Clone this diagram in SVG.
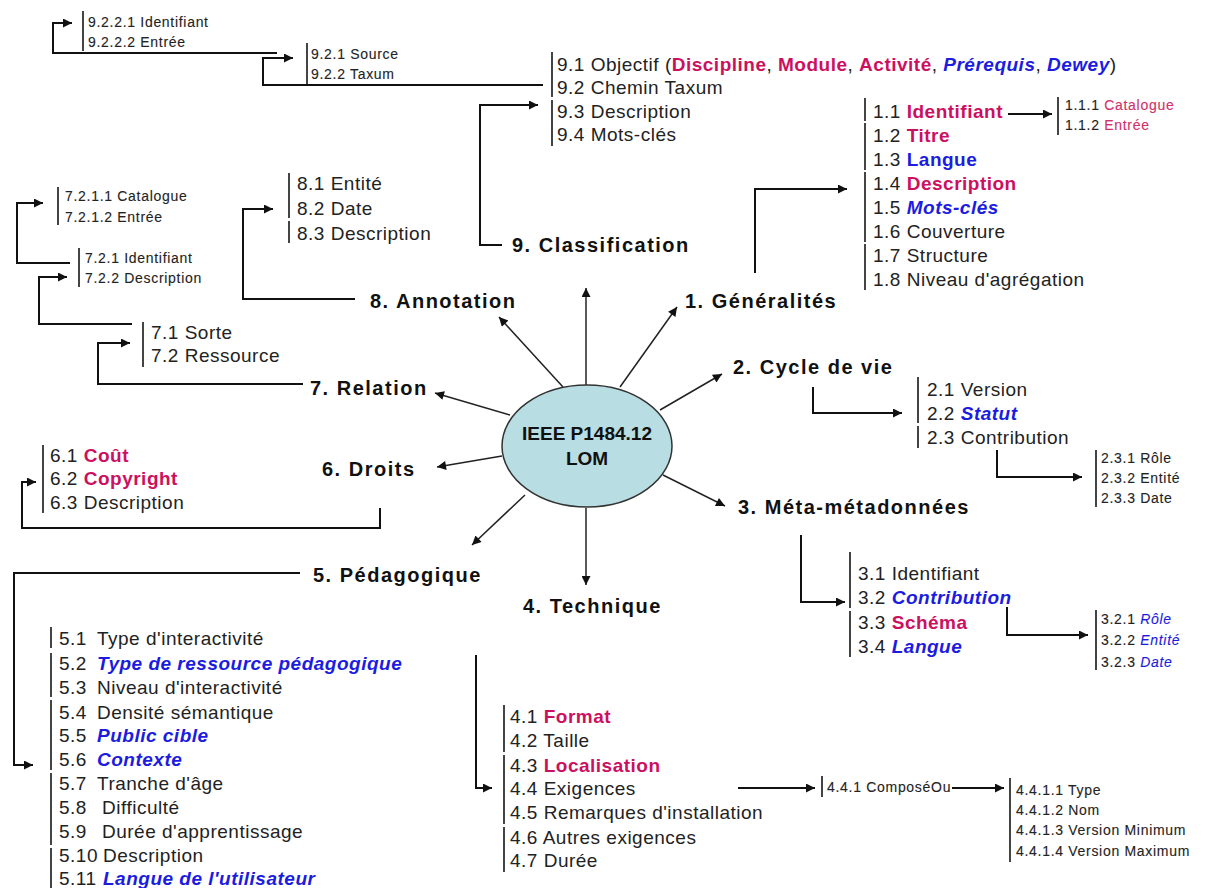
<svg xmlns="http://www.w3.org/2000/svg" width="1210" height="888" viewBox="0 0 1210 888">
<defs>
<marker id="a" viewBox="0 0 10 10" refX="10" refY="5" markerWidth="12" markerHeight="9" markerUnits="userSpaceOnUse" orient="auto"><path d="M0,0 L10,5 L0,10 z" fill="#111"/></marker>
<style>
text{font-family:"Liberation Sans",Arial,sans-serif;fill:#222}
.t{font-size:19px;letter-spacing:0.5px}
.s{font-size:14px;letter-spacing:0.7px;stroke:#333;stroke-width:0.12}
.h{font-size:20px;font-weight:bold;letter-spacing:1.5px;fill:#111}
.e{font-size:19px;font-weight:bold;fill:#111;text-anchor:middle}
.m{fill:#cc1060;font-weight:bold}
.p{fill:#d0306a;stroke:#d0306a}
.b{fill:#1c1ce0;font-weight:bold;font-style:italic}
.bs{fill:#1c1ce0;stroke:#1c1ce0;font-style:italic}
.bn{fill:#1c1ce0;font-weight:bold}
.bar{stroke:#444;stroke-width:2;fill:none}
.c{fill:none;stroke:#111;stroke-width:2;marker-end:url(#a)}
.r{fill:none;stroke:#222;stroke-width:1.5;marker-end:url(#a)}
</style>
</defs>
<rect width="1210" height="888" fill="#fff"/>

<g id="connectors">
<polyline class="c" points="277,53 53,53 53,23 72,23"/>
<polyline class="c" points="543,85 263,85 263,58 293,58"/>
<polyline class="c" points="502,245 480,245 480,105 538,105"/>
<polyline class="c" points="755,273 755,189 847,189"/>
<polyline class="c" points="1008,114 1052,114"/>
<polyline class="c" points="355,299 243,299 243,209 273,209"/>
<polyline class="c" points="303,384 98,384 98,343 130,343"/>
<polyline class="c" points="132,324 39,324 39,277 67,277"/>
<polyline class="c" points="70,263 17,263 17,203 43,203"/>
<polyline class="c" points="813,387 813,413 902,413"/>
<polyline class="c" points="997,450 997,477 1082,477"/>
<polyline class="c" points="380,508 380,528 22,528 22,482 36,482"/>
<polyline class="c" points="801,535 801,602 845,602"/>
<polyline class="c" points="1007,607 1007,635 1088,635"/>
<polyline class="c" points="300,573 14,573 14,765 33,765"/>
<polyline class="c" points="476,655 476,788 492,788"/>
<polyline class="c" points="738,788 815,788"/>
<polyline class="c" points="952,788 1004,788"/>
<line class="r" x1="586" y1="385" x2="586" y2="288"/>
<line class="r" x1="620" y1="387" x2="677" y2="307"/>
<line class="r" x1="660" y1="410" x2="722" y2="374"/>
<line class="r" x1="563" y1="387" x2="499" y2="317"/>
<line class="r" x1="510" y1="415" x2="435" y2="393"/>
<line class="r" x1="502" y1="456" x2="437" y2="467"/>
<line class="r" x1="663" y1="475" x2="725" y2="506"/>
<line class="r" x1="525" y1="495" x2="472" y2="545"/>
<line class="r" x1="586" y1="508" x2="586" y2="585"/>
</g>

<g id="lom">
<ellipse cx="587" cy="446" rx="85" ry="61" fill="#b8dde3" stroke="#333" stroke-width="1.5"/>
<text class="e" x="587" y="440">IEEE P1484.12</text>
<text class="e" x="587" y="465">LOM</text>
</g>

<g id="n9">
<text class="h" x="512" y="252">9. Classification</text>
<path class="bar" d="M552,52V97M552,100V146"/>
<text class="t" x="557" y="71">9.1 Objectif (<tspan class="m">Discipline</tspan>, <tspan class="m">Module</tspan>, <tspan class="m">Activité</tspan>, <tspan class="b">Prérequis</tspan>, <tspan class="b">Dewey</tspan>)</text>
<text class="t" x="557" y="94">9.2 Chemin Taxum</text>
<text class="t" x="557" y="118">9.3 Description</text>
<text class="t" x="557" y="141">9.4 Mots-clés</text>
</g>
<g id="n92">
<path class="bar" d="M307,43V84"/>
<text class="s" x="311" y="59">9.2.1 Source</text>
<text class="s" x="311" y="79">9.2.2 Taxum</text>
</g>
<g id="n922">
<path class="bar" d="M83,11V51"/>
<text class="s" x="88" y="27">9.2.2.1  Identifiant</text>
<text class="s" x="88" y="47">9.2.2.2 Entrée</text>
</g>

<g id="n1">
<text class="h" x="685" y="308">1. Généralités</text>
<path class="bar" d="M865,98V121M865,123V170M865,172V242M865,244V290"/>
<text class="t" x="873" y="118">1.1 <tspan class="m">Identifiant</tspan></text>
<text class="t" x="873" y="142">1.2 <tspan class="m">Titre</tspan></text>
<text class="t" x="873" y="166">1.3 <tspan class="bn">Langue</tspan></text>
<text class="t" x="873" y="190">1.4 <tspan class="m">Description</tspan></text>
<text class="t" x="873" y="214">1.5 <tspan class="b">Mots-clés</tspan></text>
<text class="t" x="873" y="238">1.6 Couverture</text>
<text class="t" x="873" y="262">1.7 Structure</text>
<text class="t" x="873" y="286">1.8 Niveau d'agrégation</text>
</g>
<g id="n11">
<path class="bar" d="M1058,97V135"/>
<text class="s" x="1065" y="110">1.1.1 <tspan class="p">Catalogue</tspan></text>
<text class="s" x="1065" y="130">1.1.2 <tspan class="p">Entrée</tspan></text>
</g>

<g id="n8">
<text class="h" x="370" y="308">8. Annotation</text>
<path class="bar" d="M289,173V218M289,221V243"/>
<text class="t" x="297" y="190">8.1 Entité</text>
<text class="t" x="297" y="215">8.2 Date</text>
<text class="t" x="297" y="240">8.3 Description</text>
</g>

<g id="n7">
<text class="h" x="310" y="395">7. Relation</text>
<path class="bar" d="M143,322V367"/>
<text class="t" x="151" y="339">7.1 Sorte</text>
<text class="t" x="151" y="362">7.2 Ressource</text>
</g>
<g id="n72">
<path class="bar" d="M79,248V287"/>
<text class="s" x="85" y="263">7.2.1 Identifiant</text>
<text class="s" x="85" y="283">7.2.2 Description</text>
</g>
<g id="n721">
<path class="bar" d="M58,187V225"/>
<text class="s" x="65" y="201">7.2.1.1 Catalogue</text>
<text class="s" x="65" y="222">7.2.1.2 Entrée</text>
</g>

<g id="n2">
<text class="h" x="733" y="374">2. Cycle de vie</text>
<path class="bar" d="M918,377V423M918,426V448"/>
<text class="t" x="927" y="396">2.1 Version</text>
<text class="t" x="927" y="420">2.2 <tspan class="b">Statut</tspan></text>
<text class="t" x="927" y="444">2.3 Contribution</text>
</g>
<g id="n23">
<path class="bar" d="M1096,450V507"/>
<text class="s" x="1101" y="463">2.3.1 Rôle</text>
<text class="s" x="1101" y="483">2.3.2 Entité</text>
<text class="s" x="1101" y="503">2.3.3 Date</text>
</g>

<g id="n6">
<text class="h" x="322" y="476">6. Droits</text>
<path class="bar" d="M43,445V513"/>
<text class="t" x="50" y="462">6.1 <tspan class="m">Coût</tspan></text>
<text class="t" x="50" y="485">6.2 <tspan class="m">Copyright</tspan></text>
<text class="t" x="50" y="509">6.3 Description</text>
</g>

<g id="n3">
<text class="h" x="738" y="514">3. Méta-métadonnées</text>
<path class="bar" d="M850,552V608M850,611V657"/>
<text class="t" x="858" y="580">3.1 Identifiant</text>
<text class="t" x="858" y="604">3.2 <tspan class="b">Contribution</tspan></text>
<text class="t" x="858" y="629">3.3 <tspan class="m">Schéma</tspan></text>
<text class="t" x="858" y="653">3.4 <tspan class="b">Langue</tspan></text>
</g>
<g id="n32">
<path class="bar" d="M1096,610V670"/>
<text class="s" x="1101" y="624">3.2.1 <tspan class="bs">Rôle</tspan></text>
<text class="s" x="1101" y="645">3.2.2 <tspan class="bs">Entité</tspan></text>
<text class="s" x="1101" y="667">3.2.3 <tspan class="bs">Date</tspan></text>
</g>

<g id="n5">
<text class="h" x="313" y="582">5. Pédagogique</text>
<path class="bar" d="M51,627V648M51,653V697M51,700V770M51,773V845M51,848V888"/>
<text class="t" x="59" y="645">5.1<tspan x="97">Type d'interactivité</tspan></text>
<text class="t" x="59" y="670">5.2<tspan x="97" class="b">Type de ressource pédagogique</tspan></text>
<text class="t" x="59" y="694">5.3<tspan x="97">Niveau d'interactivité</tspan></text>
<text class="t" x="59" y="719">5.4<tspan x="97">Densité sémantique</tspan></text>
<text class="t" x="59" y="742">5.5<tspan x="97" class="b">Public cible</tspan></text>
<text class="t" x="59" y="766">5.6<tspan x="97" class="b">Contexte</tspan></text>
<text class="t" x="59" y="790">5.7<tspan x="97">Tranche d'âge</tspan></text>
<text class="t" x="59" y="814">5.8<tspan x="102">Difficulté</tspan></text>
<text class="t" x="59" y="838">5.9<tspan x="102">Durée d'apprentissage</tspan></text>
<text class="t" x="59" y="862">5.10<tspan x="103">Description</tspan></text>
<text class="t" x="59" y="885">5.11<tspan x="103" class="b">Langue de l'utilisateur</tspan></text>
</g>

<g id="n4">
<text class="h" x="523" y="613">4. Technique</text>
<path class="bar" d="M504,705V752M504,755V824M504,827V872"/>
<text class="t" x="510" y="723">4.1 <tspan class="m">Format</tspan></text>
<text class="t" x="510" y="747">4.2 Taille</text>
<text class="t" x="510" y="772">4.3 <tspan class="m">Localisation</tspan></text>
<text class="t" x="510" y="795">4.4 Exigences</text>
<text class="t" x="510" y="819">4.5 Remarques d'installation</text>
<text class="t" x="510" y="844">4.6 Autres exigences</text>
<text class="t" x="510" y="867">4.7 Durée</text>
</g>
<g id="n441">
<path class="bar" d="M822,776V797"/>
<text class="s" x="827" y="792">4.4.1 ComposéOu</text>
</g>
<g id="n4411">
<path class="bar" d="M1010,778V862"/>
<text class="s" x="1016" y="795">4.4.1.1 Type</text>
<text class="s" x="1016" y="815">4.4.1.2 Nom</text>
<text class="s" x="1016" y="835">4.4.1.3 Version Minimum</text>
<text class="s" x="1016" y="856">4.4.1.4 Version Maximum</text>
</g>
</svg>
